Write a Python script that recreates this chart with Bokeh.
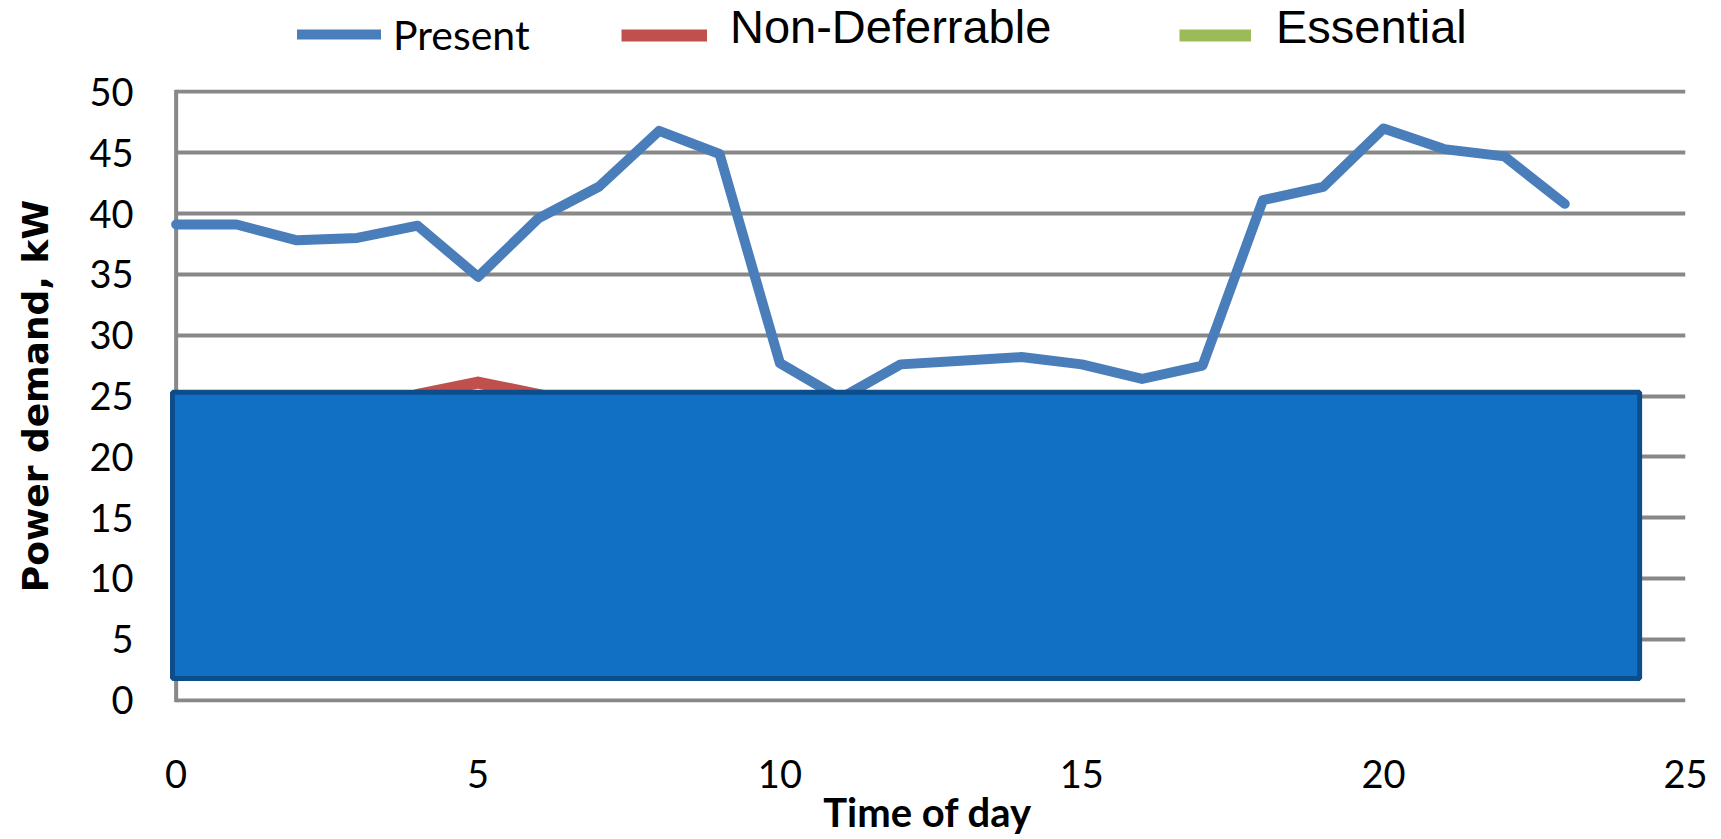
from bokeh.plotting import figure
from bokeh.layouts import column
from bokeh.models import Range1d, Legend, LegendItem, Span, FixedTicker
from bokeh.embed import file_html
from bokeh.resources import INLINE

# ---- data ----
hours = list(range(24))
present = [39.1, 39.1, 37.8, 38.0, 39.0, 34.8, 39.6, 42.2, 46.8, 44.9, 27.7, 24.8,
           27.6, 27.9, 28.2, 27.6, 26.4, 27.5, 41.1, 42.2, 47.0, 45.3, 44.7, 40.8]
# largely hidden behind the blue box; visible part near hour 5
non_deferrable = [22.5, 22.4, 21.8, 22.2, 25.1, 26.1, 25.1, 24.0, 23.5, 23.0, 19.5, 18.0,
                  19.0, 19.5, 19.8, 19.4, 18.8, 19.2, 23.5, 24.0, 24.8, 24.2, 23.8, 23.0]
essential = [12.0, 11.8, 11.5, 11.6, 11.9, 12.5, 13.2, 14.0, 14.8, 15.0, 14.5, 14.2,
             14.0, 14.1, 14.3, 14.0, 13.8, 14.2, 15.5, 16.0, 16.2, 15.5, 14.5, 13.0]
series_names = ["Present", "Non-Deferrable", "Essential"]
x_ticks = [0, 5, 10, 15, 20, 25]
y_ticks = [0, 5, 10, 15, 20, 25, 30, 35, 40, 45, 50]
# occluding box (data units): left, right, bottom, top
box_left, box_right, box_bottom, box_top = [-0.06], [24.24], [1.77], [25.3]

GRID = "#888888"
BLUE, RED, GREEN = "#4A7EBB", "#C0504D", "#9BBB59"
W = 1721
LEG_H = 64
FRAME_LEFT = 169

# ---------------- main chart ----------------
p = figure(width=W, height=839 - LEG_H,
           x_range=Range1d(-0.11, 25), y_range=Range1d(-0.2, 50.2),
           output_backend="svg", toolbar_location=None,
           min_border_left=FRAME_LEFT, min_border_right=36,
           min_border_top=25, min_border_bottom=137)
p.outline_line_color = None
p.background_fill_color = "white"
p.border_fill_color = "white"

p.xgrid.visible = False
p.ygrid.grid_line_color = GRID
p.ygrid.grid_line_width = 4
p.ygrid.ticker = FixedTicker(ticks=y_ticks)
try:
    p.ygrid.cross_bounds = (0, 25)
except Exception:
    pass
p.ygrid.level = "underlay"

# vertical axis line at x = 0
p.add_layout(Span(location=0, dimension="height", line_color=GRID,
                  line_width=4, level="underlay"))

for ax in (p.xaxis[0], p.yaxis[0]):
    ax.axis_line_color = None
    ax.major_tick_line_color = None
    ax.minor_tick_line_color = None
    ax.major_tick_out = 0
    ax.major_tick_in = 0
    ax.minor_tick_out = 0
    ax.minor_tick_in = 0
    ax.major_label_text_font = "Lato"
    ax.major_label_text_font_size = "38px"
    ax.major_label_text_color = "black"

p.xaxis.ticker = FixedTicker(ticks=x_ticks)
p.yaxis.ticker = FixedTicker(ticks=y_ticks)
p.xaxis.major_label_standoff = 57
p.yaxis.major_label_standoff = 36

p.xaxis.axis_label = "Time of day"
p.xaxis.axis_label_text_font = "Lato"
p.xaxis.axis_label_text_font_style = "bold"
p.xaxis.axis_label_text_font_size = "40px"
p.xaxis.axis_label_text_color = "black"
p.xaxis.axis_label_text_baseline = "alphabetic"
p.xaxis.axis_label_standoff = -3

p.yaxis.axis_label = "Power demand, kW"
p.yaxis.axis_label_text_font = "DejaVu Sans"
p.yaxis.axis_label_text_font_style = "bold"
p.yaxis.axis_label_text_font_size = "36px"
p.yaxis.axis_label_text_color = "black"
p.yaxis.axis_label_standoff = 30

ess_style = dict(line_color=GREEN, line_width=12, line_join="round")
nd_style = dict(line_color=RED, line_width=12, line_join="round")
pr_style = dict(line_color=BLUE, line_width=10, line_cap="round", line_join="round")

p.line(hours, essential, **ess_style)
p.line(hours, non_deferrable, **nd_style)
p.line(hours, present, **pr_style)

# occluding box
p.quad(left=box_left, right=box_right, bottom=box_bottom, top=box_top,
       fill_color="#116FC4", line_color="#0C4E8C", line_width=5)

# ---------------- legend strip ----------------
# same series, drawn into a strip whose y range holds none of them,
# so only their legend entries show
lg = figure(width=W, height=LEG_H, x_range=Range1d(0, 25), y_range=Range1d(0, 1),
            output_backend="svg", toolbar_location=None,
            x_axis_location=None, y_axis_location=None,
            min_border_left=FRAME_LEFT, min_border_right=36,
            min_border_top=0, min_border_bottom=0)
lg.outline_line_color = None
lg.grid.visible = False

lr_pr = lg.line(hours, present, **pr_style)
lr_nd = lg.line(hours, non_deferrable, **nd_style)
lr_ess = lg.line(hours, essential, **ess_style)


def add_legend(label, rend, px, vy, gw, standoff, font, size):
    leg = Legend(items=[LegendItem(label=label, renderers=[rend])],
                 location=(px - FRAME_LEFT, vy), orientation="horizontal",
                 padding=0, margin=0, spacing=0,
                 border_line_alpha=0, background_fill_alpha=0,
                 glyph_width=gw, glyph_height=54, label_height=54,
                 label_standoff=standoff,
                 label_text_font=font, label_text_font_size=size,
                 label_text_color="black")
    lg.add_layout(leg)


# Present: sample line + label together
add_legend(series_names[0], lr_pr, 297, 3, 84, 12, "Lato", "41px")
# Non-Deferrable / Essential: sample line and label placed separately
add_legend(" ", lr_nd, 621, 2, 86, 0, "Liberation Sans", "47px")
add_legend(series_names[1], lr_nd, 730, 10, 0, 0, "Liberation Sans", "47px")
add_legend(" ", lr_ess, 1179, 2, 72, 0, "Liberation Sans", "47px")
add_legend(series_names[2], lr_ess, 1276, 10, 0, 0, "Liberation Sans", "47px")

layout = column(lg, p, spacing=0)
open("out.html", "w").write(file_html(layout, INLINE))
